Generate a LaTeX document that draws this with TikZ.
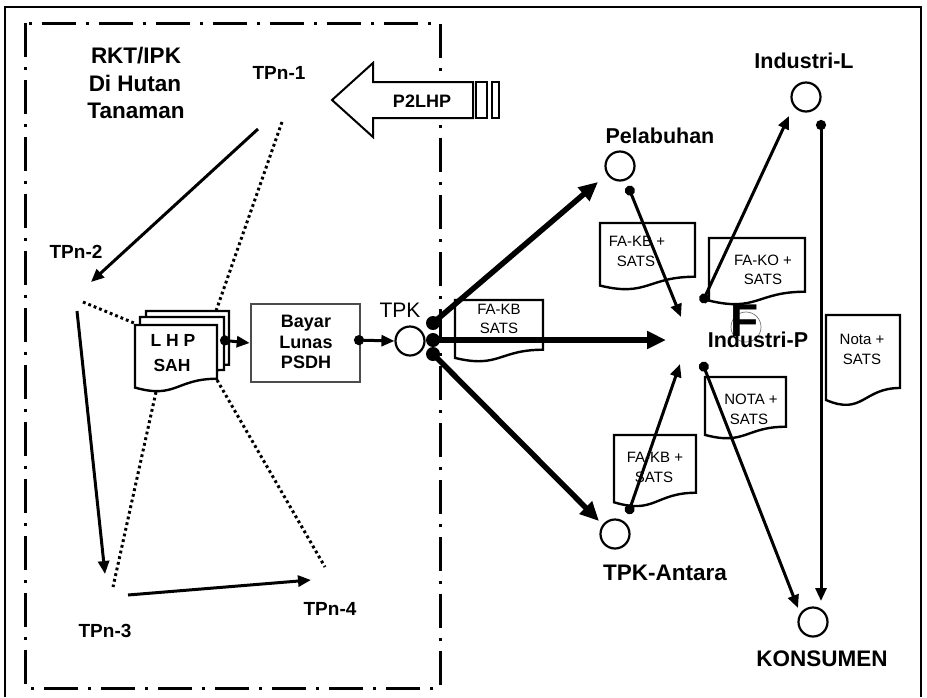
\documentclass[tikz,border=0pt]{standalone}
\usepackage{fontspec}
\setmainfont{Liberation Sans}
\usetikzlibrary{arrows.meta,calc}
\newcommand\docshape[4]{%
  \draw[docline] (#1,#2) -- (#1+#3,#2) -- (#1+#3,#2+0.802*#4)
    .. controls (#1+0.5*#3,#2+0.802*#4) and (#1+0.5*#3,#2+1.1075*#4) .. (#1,#2+0.934*#4) -- cycle;}
\tikzset{
  lbl/.style={font=\fontsize{19}{19}\selectfont\bfseries, inner sep=0pt, anchor=base},
  bigl/.style={font=\fontsize{21.5}{21.5}\selectfont\bfseries, inner sep=0pt, anchor=base},
  boxl/.style={font=\fontsize{18}{18}\selectfont\bfseries, inner sep=0pt, anchor=base},
  doct/.style={font=\fontsize{15}{15}\selectfont, inner sep=0pt, anchor=base},
  docline/.style={line width=2.4pt, fill=white, line join=miter},
  station/.style={circle, draw, line width=2.2pt, minimum size=29pt, inner sep=0pt},
  bigdot/.style={circle, fill, inner sep=0pt, minimum size=14pt},
  thinarr/.style={line width=3pt, -{Triangle[length=13pt,width=11pt]}},
  dotarr/.style={line width=3pt, {Circle[length=10pt]}-{Triangle[length=13pt,width=11pt]}},
  thickarr/.style={line width=5.5pt, -{Triangle[length=19pt,width=17pt]}},
  dotline/.style={line width=3pt, dash pattern=on 2.8pt off 3pt},
  dashdot/.style={line width=3pt, dash pattern=on 34pt off 10pt on 3pt off 10pt}
}
\begin{document}
\begin{tikzpicture}[x=1pt,y=-1pt]
\useasboundingbox (0,0) rectangle (927,697);
% outer frame
\draw[line width=1.6pt] (5,697) -- (5,7) -- (921,7) -- (921,697);
% forest area
\draw[dashdot] (25,23) rectangle (440,688);
% P2LHP block arrow
\draw[line width=2pt, fill=white, line join=miter] (332,100) -- (373,63) -- (373,82) -- (473,82) -- (473,118) -- (373,118) -- (373,137) -- cycle;
\draw[line width=2pt] (476,82) rectangle (487,118);
\draw[line width=2pt] (492,82) rectangle (499,118);
\node[boxl] (p2lhp) at (422,107) {P2LHP};
% texts in forest
\node[font=\fontsize{22.5}{22.5}\selectfont\bfseries, inner sep=0pt, anchor=base] (rkt1) at (136,63) {RKT/IPK};
\node[font=\fontsize{22.5}{22.5}\selectfont\bfseries, inner sep=0pt, anchor=base] (rkt2) at (135,91) {Di Hutan};
\node[font=\fontsize{22.5}{22.5}\selectfont\bfseries, inner sep=0pt, anchor=base] (rkt3) at (136,118) {Tanaman};
\node[lbl] (tp1) at (279,79) {TPn-1};
\node[lbl] (tp2) at (76,258) {TPn-2};
\node[lbl] (tp3) at (105,637) {TPn-3};
\node[lbl] (tp4) at (330,615) {TPn-4};
% named points
\coordinate (a1s) at (258,129); \coordinate (a1e) at (91,282);
\coordinate (a2s) at (77,311);  \coordinate (a2e) at (105,574);
\coordinate (a3s) at (128,595); \coordinate (a3e) at (311,580);
\coordinate (d1s) at (282,122); \coordinate (d1e) at (216,311);
\coordinate (d2s) at (83,302);  \coordinate (d2e) at (134,323);
\coordinate (d3s) at (156,392); \coordinate (d3e) at (113,587);
\coordinate (d4s) at (217,380); \coordinate (d4e) at (325,567);
% dotted lines
\draw[dotline] (d1s) -- (d1e);
\draw[dotline] (d2s) -- (d2e);
\draw[dotline] (d3s) -- (d3e);
\draw[dotline] (d4s) -- (d4e);
% TPn arrows
\draw[thinarr] (a1s) -- (a1e);
\draw[thinarr] (a2s) -- (a2e);
\draw[thinarr] (a3s) -- (a3e);
% LHP SAH stack
\docshape{146}{311}{83}{67}
\docshape{140}{317}{84}{66}
\docshape{135}{325}{82}{67}
\node[boxl, font=\fontsize{17.5}{17.5}\selectfont\bfseries] (lhp) at (173,346) {L H P};
\node[boxl, font=\fontsize{17.5}{17.5}\selectfont\bfseries] (sah) at (172,371) {SAH};
% Bayar box
\node[draw=black!70, line width=2.6pt, minimum width=109pt, minimum height=78pt, inner sep=0pt] (bayar) at (305.5,343) {};
\node[boxl] (bay1) at (306,327) {Bayar};
\node[boxl] (bay2) at (306,348) {Lunas};
\node[boxl] (bay3) at (306,368) {PSDH};
% TPK
\node[station] (tpk) at (410,341) {};
\node[font=\fontsize{21}{21}\selectfont, inner sep=0pt, anchor=base] (tpkl) at (400,317) {TPK};
\coordinate (lhpout) at (220,340);
\draw[dotarr] (lhpout) -- (bayar.west);
\coordinate (bayout) at (354,340);
\draw[dotarr] (bayout) -- (tpk.west);
% documents on the right
\docshape{455}{300}{88}{62}
\node[doct] (dk1) at (499,314.5) {FA-KB};
\node[doct] (dk2) at (499,333.5) {SATS};
\docshape{600}{223}{95}{67}
\node[doct] (dp1) at (637,246.5) {FA-KB +};
\node[doct] (dp2) at (636,266.5) {SATS};
\docshape{709}{238}{96}{67}
\node[doct] (do1) at (763,265.5) {FA-KO +};
\node[doct] (do2) at (763,284.5) {SATS};
\docshape{826}{315}{74}{91}
\node[doct] (dn1) at (862,344.5) {Nota +};
\node[doct] (dn2) at (862,364.5) {SATS};
\docshape{705}{377}{81}{62}
\node[doct] (dq1) at (751,404.5) {NOTA +};
\node[doct] (dq2) at (749,424.5) {SATS};
\docshape{614}{435}{82}{72}
\node[doct] (da1) at (655,462.5) {FA-KB +};
\node[doct] (da2) at (654,482.5) {SATS};
% stations
\node[station] (pel) at (620,166) {};
\node[bigl] (pell) at (660,143) {Pelabuhan};
\node[station] (indl) at (806,97) {};
\node[bigl] (indll) at (804,68) {Industri-L};
\node[station] (ant) at (615,534) {};
\node[bigl, font=\fontsize{22.5}{22.5}\selectfont\bfseries] (antl) at (665,580) {TPK-Antara};
\node[station] (kon) at (813,622) {};
\node[bigl, font=\fontsize{22.5}{22.5}\selectfont\bfseries] (konl) at (822,666) {KONSUMEN};
% strange F mark
\node[circle, draw=black!55, line width=0.7pt, minimum size=30pt, inner sep=0pt] (fring) at (746,327) {};
\node[font=\fontsize{46}{46}\selectfont\bfseries, inner sep=0pt, anchor=base] (fmark) at (745,336) {F};
\node[bigl] (indp) at (758,347) {Industri-P};
% TPK outgoing thick arrows
\node[bigdot] (tdot1) at (433,323) {};
\node[bigdot] (tdot2) at (433,340) {};
\node[bigdot] (tdot3) at (433,354) {};
\coordinate (pelin) at (598,182);
\coordinate (indpin) at (666,340);
\coordinate (antin) at (599,521);
\draw[thickarr] (tdot1.center) -- (pelin);
\draw[thickarr] (tdot2.center) -- (indpin);
\draw[thickarr] (tdot3.center) -- (antin);
% flows around Industri-P
\coordinate (pelout) at (628,186);
\coordinate (ipin1) at (681,317);
\draw[dotarr] (pelout) -- (ipin1);
\coordinate (antout) at (628,514);
\coordinate (ipin2) at (680,364);
\draw[dotarr] (antout) -- (ipin2);
\coordinate (ipout1) at (702,303);
\coordinate (indlin) at (789,116);
\draw[dotarr] (ipout1) -- (indlin);
\coordinate (ipout2) at (702,362);
\coordinate (konin1) at (798,608);
\draw[dotarr] (ipout2) -- (konin1);
\coordinate (indlout) at (821,120);
\coordinate (konin2) at (821,601);
\draw[dotarr] (indlout) -- (konin2);
\end{tikzpicture}
\end{document}
